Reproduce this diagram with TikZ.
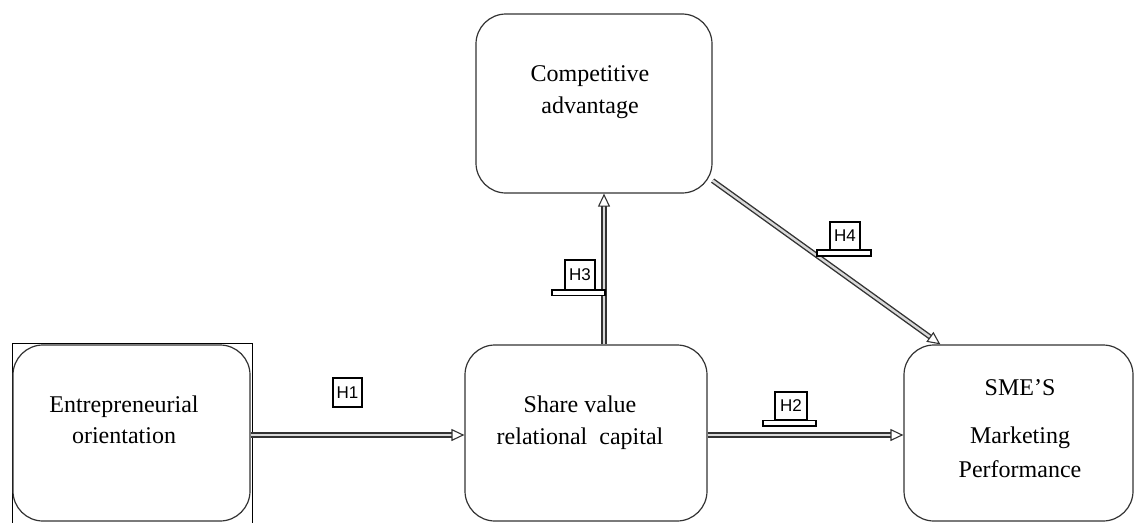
\documentclass[tikz,border=0pt]{standalone}
\usepackage{fontspec}
\setmainfont{Liberation Serif}
\newfontfamily\labfont{Liberation Sans}
\usetikzlibrary{arrows.meta,calc}
\begin{document}
\begin{tikzpicture}[x=1pt,y=-1pt,
  box/.style={draw=black!80,line width=1.2pt,rounded corners=30pt,inner sep=0pt},
  txt/.style={font=\fontsize{24}{33}\selectfont,anchor=base,inner sep=0pt},
  arr/.style={draw=black!80,line width=1.4pt,double=black!15,double distance=2.4pt,
    -{Triangle[open,length=13pt,width=12pt,line width=1.1pt]}},
  hbox/.style={draw=black,line width=1.1pt,fill=white,inner sep=0pt,font=\labfont\fontsize{17}{17}\selectfont},
  hbar/.style={draw=black,line width=1.1pt,fill=white}]
\useasboundingbox (0,0) rectangle (1134,522);
\clip (0,0) rectangle (1134,522);
% frame around first box
\draw[black,line width=0.9pt] (12,540) -- (12,343) -- (252,343) -- (252,540);
% boxes
\node[box,minimum width=237pt,minimum height=176pt] (ent) at (131.5,433) {};
\node[box,minimum width=242pt,minimum height=176pt] (svc) at (586,433) {};
\node[box,minimum width=236pt,minimum height=179pt] (cad) at (594,103.5) {};
\node[box,minimum width=229pt,minimum height=176pt] (sme) at (1018.5,433) {};
% texts
\node[txt] (entA) at (124,412) {Entrepreneurial};
\node[txt] (entB) at (124,443) {orientation};
\node[txt] (svcA) at (580,412) {Share value};
\node[txt] (svcB) at (580,444) {relational\ \ capital};
\node[txt] (cadA) at (590,81) {Competitive};
\node[txt] (cadB) at (590,113) {advantage};
\node[txt] (smeA) at (1020,395) {SME'S};
\node[txt] (smeB) at (1020,443) {Marketing};
\node[txt] (smeC) at (1020,477) {Performance};
% arrows
\coordinate (h1s) at (ent.east |- 0,435);
\coordinate (h1e) at (svc.west |- 0,435);
\draw[arr] (h1s) -- (h1e);
\coordinate (h2s) at (svc.east |- 0,435);
\coordinate (h2e) at (sme.west |- 0,435);
\draw[arr] (h2s) -- (h2e);
\coordinate (h3s) at ($(svc.north)+(18,0)$);
\draw[arr] (h3s) -- (h3s |- cad.south);
\coordinate (h4s) at ($(cad.south east)+(0,-13)$);
\coordinate (h4e) at ($(sme.north west)+(37,0)$);
\draw[arr] (h4s) -- (h4e);
% labels
\node[hbox,minimum width=29pt,minimum height=29pt] (h1) at (347.5,392.5) {H1};
\draw[hbar] (763,420.5) rectangle (816,426);
\node[hbox,minimum width=32pt,minimum height=28pt] (h2) at (791,406) {H2};
\draw[hbar] (552,290) rectangle (605,295.5);
\node[hbox,minimum width=30pt,minimum height=30pt] (h3) at (580,275) {H3};
\draw[hbar] (817,250) rectangle (871,256);
\node[hbox,minimum width=30pt,minimum height=28pt] (h4) at (845,236) {H4};
\end{tikzpicture}
\end{document}
